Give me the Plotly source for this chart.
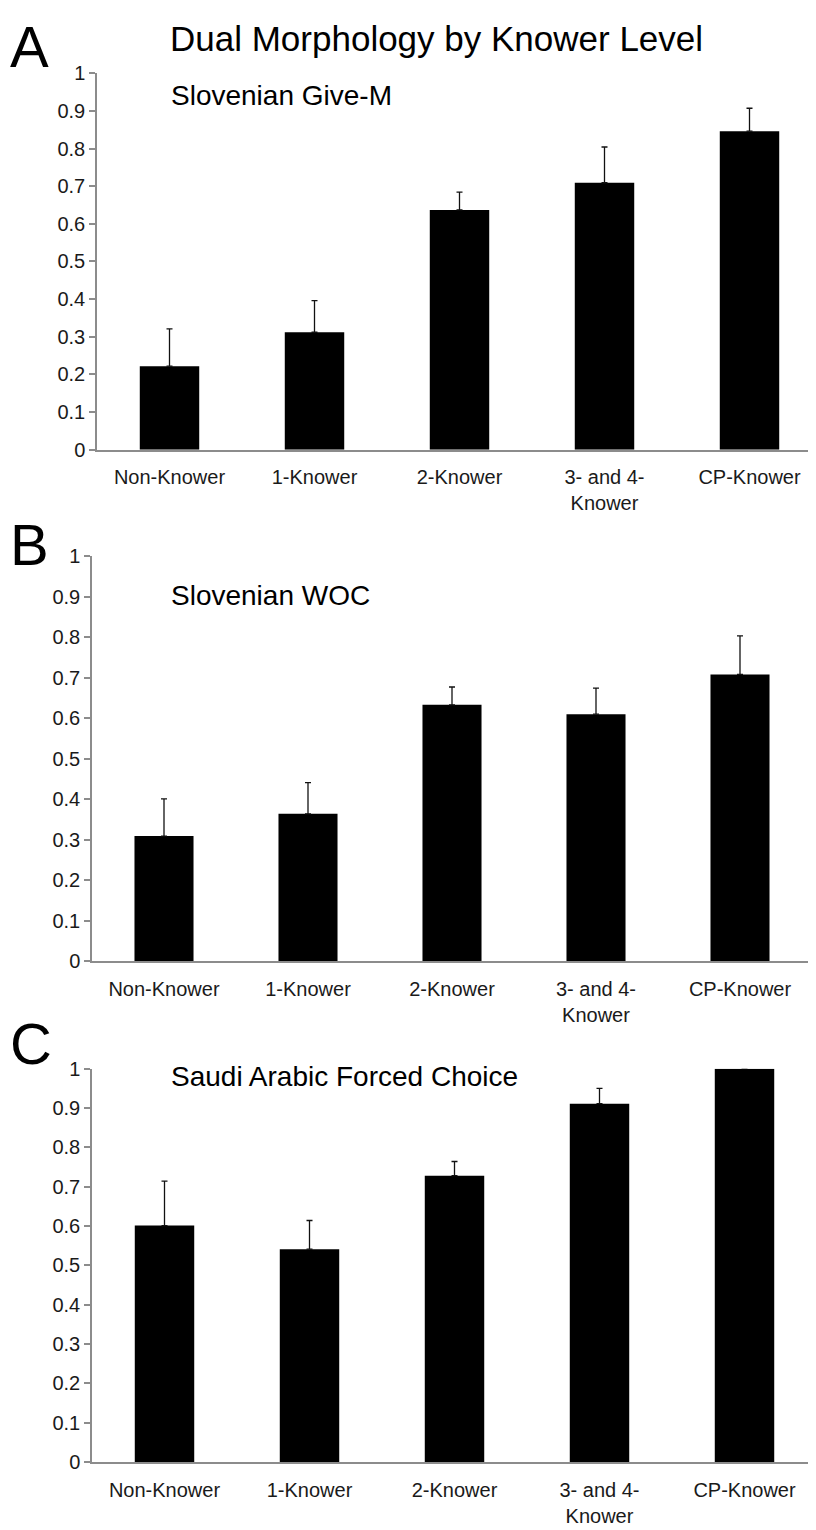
import plotly.graph_objects as go

categories = ["Non-Knower", "1-Knower", "2-Knower", "3- and 4-<br>Knower", "CP-Knower"]

give_m_values = [0.222, 0.312, 0.637, 0.709, 0.846]
give_m_errors = [0.099, 0.084, 0.047, 0.095, 0.061]

woc_values = [0.309, 0.364, 0.633, 0.610, 0.708]
woc_errors = [0.092, 0.077, 0.044, 0.064, 0.095]

saudi_values = [0.601, 0.541, 0.728, 0.911, 1.000]
saudi_errors = [0.113, 0.073, 0.036, 0.039, 0.0]

y_ticks = [0, 0.1, 0.2, 0.3, 0.4, 0.5, 0.6, 0.7, 0.8, 0.9, 1]
y_tick_text = ["0", "0.1", "0.2", "0.3", "0.4", "0.5", "0.6", "0.7", "0.8", "0.9", "1"]

W, H = 816, 1530
FONT = "Liberation Sans, Arial, sans-serif"

panels = [
    # (values, errors, x-left px, x-right px, y-top px, y-bottom px, subtitle, letter, letter y px, subtitle y px)
    (give_m_values, give_m_errors, 89, 814, 55, 437, "Slovenian Give-M", "A", 28, 78),
    (woc_values, woc_errors, 84, 804, 545, 956, "Slovenian WOC", "B", 533, 585),
    (saudi_values, saudi_errors, 84, 809, 1065, 1464, "Saudi Arabic Forced Choice", "C", 1039, 1073),
]

fig = go.Figure()
annotations = []
for i, (vals, errs, xl, xr, yt, yb, sub, letter, ly, sy) in enumerate(panels):
    n = "" if i == 0 else str(i + 1)
    fig.add_trace(go.Bar(
        x=categories, y=vals,
        xaxis="x" + n, yaxis="y" + n,
        width=0.41,
        marker=dict(color="black", line=dict(color="black", width=0)),
        error_y=dict(type="data", array=errs, arrayminus=[0] * len(errs), symmetric=False,
                     color="#111111", thickness=1.3, width=3),
        showlegend=False,
    ))
    xa = dict(
        domain=[xl / W, xr / W], anchor="y" + n,
        showline=True, linecolor="#8c8c8c", linewidth=1.5,
        ticks="", showgrid=False, zeroline=False,
        tickfont=dict(family=FONT, size=20, color="#1a1a1a"),
        ticklabelstandoff=9,
        categoryorder="array", categoryarray=categories,
        fixedrange=True,
    )
    ya = dict(
        domain=[1 - yb / H, 1 - yt / H], anchor="x" + n,
        range=[0, 1], tickvals=y_ticks, ticktext=y_tick_text,
        showline=True, linecolor="#8c8c8c", linewidth=1.5,
        ticks="outside", ticklen=6, tickcolor="#8c8c8c", tickwidth=1.5,
        showgrid=False, zeroline=False,
        tickfont=dict(family=FONT, size=20, color="#1a1a1a"),
        fixedrange=True,
    )
    fig.update_layout(**{"xaxis" + n: xa, "yaxis" + n: ya})
    annotations.append(dict(text=sub, xref="paper", yref="paper", x=161 / W, y=1 - sy / H,
                            xanchor="left", yanchor="middle", showarrow=False,
                            font=dict(family=FONT, size=28, color="black")))
    annotations.append(dict(text=letter, xref="paper", yref="paper", x=0 / W, y=1 - ly / H,
                            xanchor="left", yanchor="middle", showarrow=False,
                            font=dict(family=FONT, size=58, color="black")))

annotations.append(dict(text="Dual Morphology by Knower Level", xref="paper", yref="paper",
                        x=428 / W, y=1 - 20 / H, xanchor="center", yanchor="middle",
                        showarrow=False, font=dict(family=FONT, size=35, color="black")))

fig.update_layout(
    width=W, height=H,
    margin=dict(l=0, r=0, t=0, b=0),
    paper_bgcolor="white", plot_bgcolor="white",
    annotations=annotations,
    bargap=0.59,
)

fig.write_html("out.html")
